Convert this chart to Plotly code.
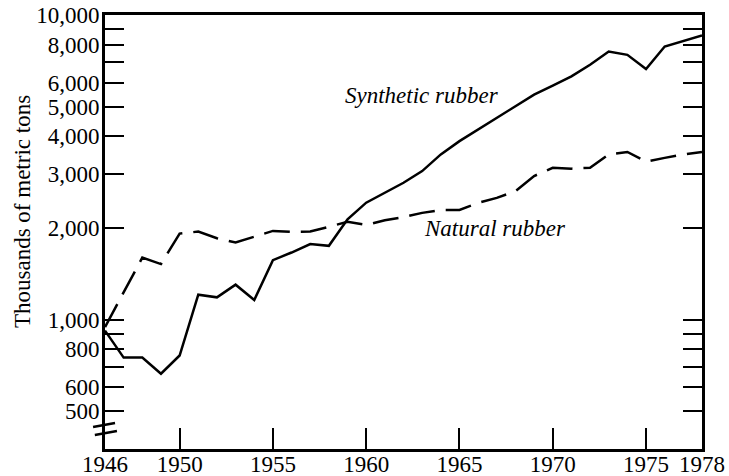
import plotly.graph_objects as go

years = list(range(1946, 1979))
synthetic = [920, 750, 750, 664, 762, 1207, 1183, 1302, 1160, 1567, 1660, 1770, 1746, 2134,
             2420, 2612, 2813, 3073, 3485, 3854, 4209, 4594, 5013, 5476, 5860, 6285, 6866,
             7590, 7398, 6643, 7880, 8230, 8570]
natural = [945, 1229, 1597, 1521, 1915, 1945, 1850, 1790, 1870, 1955, 1940, 1945, 2015, 2095,
           2045, 2120, 2170, 2240, 2290, 2290, 2415, 2510, 2640, 2960, 3150, 3130, 3150,
           3485, 3550, 3300, 3395, 3485, 3550]

x_tickvals = [1946, 1950, 1955, 1960, 1965, 1970, 1975, 1978]
y_tickvals = [500, 600, 700, 800, 900, 1000, 2000, 3000, 4000, 5000, 6000, 7000, 8000, 9000, 10000]
y_ticktext = ["500", "600", "", "800", "", "1,000", "2,000", "3,000", "4,000", "5,000",
              "6,000", "", "8,000", "", "10,000"]

FONT = "Liberation Serif"

fig = go.Figure()
fig.add_trace(go.Scatter(x=years, y=natural, mode="lines",
                         line=dict(color="black", width=2.5, dash="26px,11px"),
                         showlegend=False))
fig.add_trace(go.Scatter(x=years, y=synthetic, mode="lines",
                         line=dict(color="black", width=2.5),
                         showlegend=False))

fig.update_layout(
    width=729, height=476,
    margin=dict(l=105, r=27, t=15, b=27),
    paper_bgcolor="white", plot_bgcolor="white",
    font=dict(family=FONT, size=23, color="black"),
    xaxis=dict(range=[1946, 1978], tickvals=x_tickvals, ticktext=[str(v) for v in x_tickvals],
               ticks="inside", ticklen=21, tickwidth=2, tickcolor="black",
               tickfont=dict(family=FONT, size=23), ticklabeloverflow="allow",
               ticklabelstandoff=-8,
               showline=True, linewidth=3, linecolor="black", mirror=True,
               showgrid=False, zeroline=False, automargin=False),
    yaxis=dict(type="log", range=[2.575, 4.0], tickvals=y_tickvals, ticktext=y_ticktext,
               ticks="inside", ticklen=19, tickwidth=2, tickcolor="black",
               tickfont=dict(family=FONT, size=23), ticklabeloverflow="allow",
               ticklabelstandoff=-2,
               showline=True, linewidth=3, linecolor="black", mirror="ticks",
               showgrid=False, zeroline=False, automargin=False),
    annotations=[
        dict(x=1963.0, y=3.735, xref="x", yref="y", text="<i>Synthetic rubber</i>",
             showarrow=False, font=dict(family=FONT, size=23)),
        dict(x=1966.9, y=3.298, xref="x", yref="y", text="<i>Natural rubber</i>",
             showarrow=False, font=dict(family=FONT, size=23)),
        dict(x=-0.139, y=0.546, xref="paper", yref="paper", text="Thousands of metric tons",
             xanchor="center", yanchor="middle",
             textangle=-90, showarrow=False, font=dict(family=FONT, size=23)),
    ],
    shapes=[
        dict(type="line", xref="paper", yref="paper", x0=-0.020, y0=0.0507, x1=0.0168, y1=0.0599,
             line=dict(color="black", width=2.5)),
        dict(type="line", xref="paper", yref="paper", x0=-0.017, y0=0.0323, x1=0.020, y1=0.0415,
             line=dict(color="black", width=2.5)),
    ],
)

fig.write_html("out.html", config={"displayModeBar": False},
               post_script="document.body.style.margin='0px';")
